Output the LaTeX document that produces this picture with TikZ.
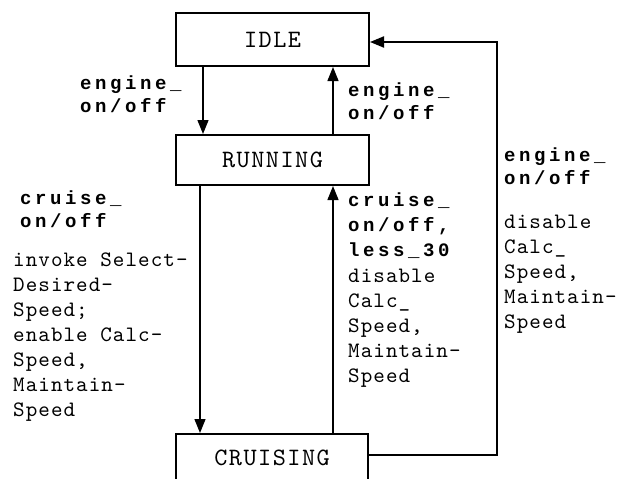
\documentclass[tikz,border=0pt]{standalone}
\usepackage{fontspec}
\newfontfamily\lblB[LetterSpace=19]{Liberation Mono}
\newfontfamily\lblR[LetterSpace=4.8]{lmmono10-regular.otf}
\newfontfamily\stfont[LetterSpace=6]{lmmono10-regular.otf}
\usetikzlibrary{arrows.meta}
\begin{document}
\begin{tikzpicture}[x=1pt,y=-1pt,
 state/.style={draw,line width=2pt,minimum width=193pt,inner sep=0pt,font=\stfont\fontsize{25}{25}\selectfont},
 conn/.style={line width=1.3pt,-{Triangle[width=11pt,length=14pt]}},
 bl/.style={anchor=base west,inner sep=0pt,align=left,font=\lblB\bfseries\fontsize{19}{23}\selectfont},
 blw/.style={bl,font=\lblB\bfseries\fontsize{19}{25}\selectfont},
 nl/.style={anchor=base west,inner sep=0pt,align=left,font=\lblR\fontsize{22}{25}\selectfont}]
\useasboundingbox (0,0) rectangle (621,479);
\fill[white] (0,0) rectangle (621,479);

\node[state,minimum height=53pt] (idle) at (272.5,39.5) {IDLE};
\node[state,minimum height=50pt] (run) at (272.5,160) {RUNNING};
\node[state,minimum height=48pt,minimum width=192pt] (cru) at (272,458) {CRUISING};

\coordinate (xa) at (203,0);
\coordinate (xb) at (333,0);
\coordinate (xc) at (200,0);
\coordinate (lb) at (0,455);
\coordinate (lr) at (497,42);

\draw[conn] (idle.south -| xa) -- (run.north -| xa);
\draw[conn] (run.north -| xb) -- (idle.south -| xb);
\draw[conn] (run.south -| xc) -- (cru.north -| xc);
\draw[conn] (cru.north -| xb) -- (run.south -| xb);
\draw[conn,line width=2pt] (cru.east |- lb) -| (lr) -- (idle.east |- lr);

% anchors are at the baseline of the last line of each block
\node[bl] (l1) at (80,112) {engine\_\\on/off};
\node[bl] (l2) at (348,119) {engine\_\\on/off};
\node[bl] (l3) at (504,184) {engine\_\\on/off};
\node[nl] (l3b) at (504,328) {disable\\Calc\_\\Speed,\\Maintain-\\Speed};
\node[bl] (l4) at (20,227) {cruise\_\\on/off};
\node[nl] (l4b) at (13,416) {invoke Select-\\Desired-\\Speed;\\enable Calc-\\Speed,\\Maintain-\\Speed};
\node[blw] (l5) at (348,256) {cruise\_\\on/off,\\less\_30};
\node[nl] (l5b) at (348,382) {disable\\Calc\_\\Speed,\\Maintain-\\Speed};
\end{tikzpicture}
\end{document}
